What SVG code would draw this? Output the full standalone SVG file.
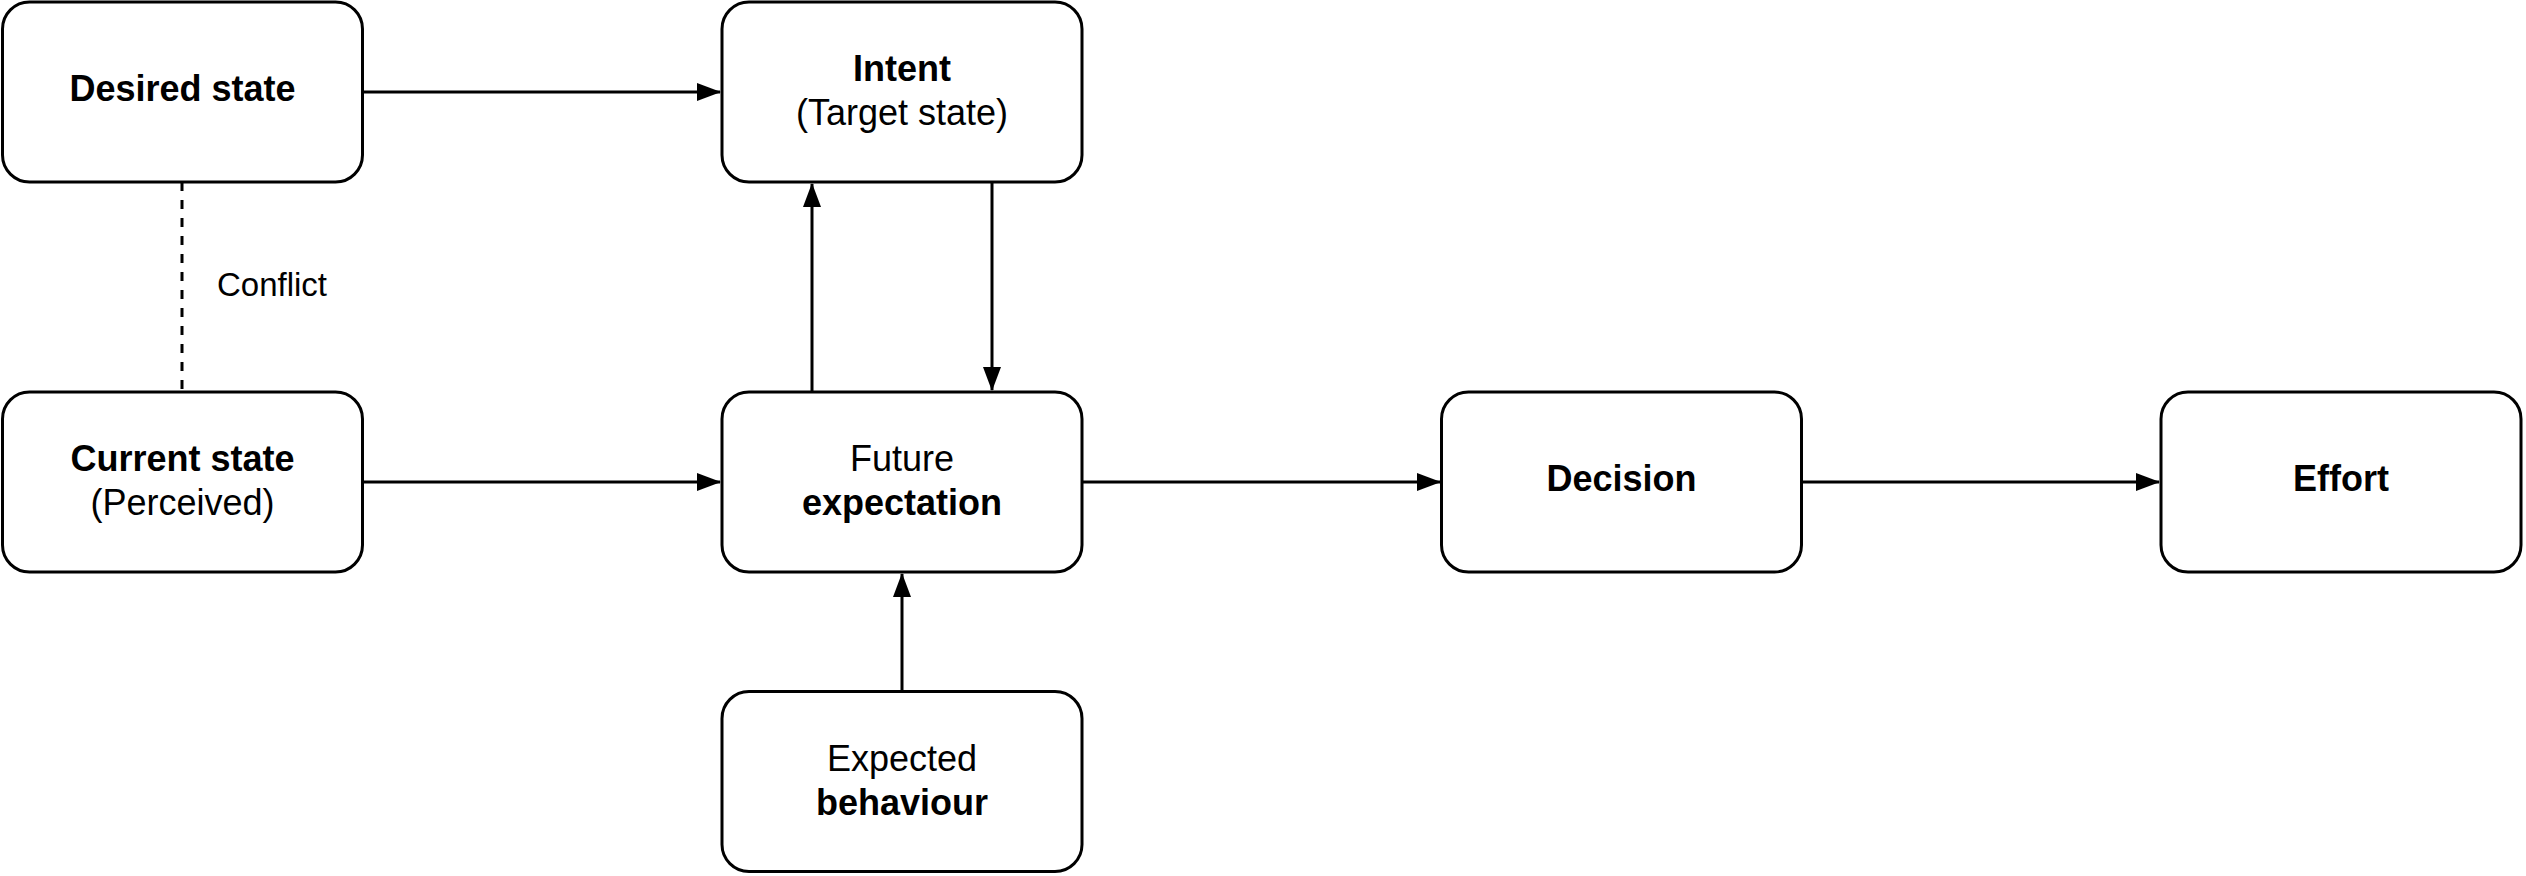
<svg xmlns="http://www.w3.org/2000/svg" width="2526" height="876" viewBox="0 0 2526 876">
<style>
.box{fill:#fff;stroke:#000;stroke-width:3}
.t{font-family:"Liberation Sans",Arial,Helvetica,sans-serif;font-size:36px;fill:#000;text-anchor:middle}
.b{font-weight:bold}
.lbl{font-family:"Liberation Sans",Arial,Helvetica,sans-serif;font-size:33px;fill:#000;text-anchor:middle}
.e{fill:none;stroke:#000;stroke-width:3}
</style>
<defs>
<marker id="ah" viewBox="0 0 24 18" refX="23" refY="9" markerWidth="24" markerHeight="18" markerUnits="userSpaceOnUse" orient="auto">
<path d="M0,0 L24,9 L0,18 Z" fill="#000"/>
</marker>
</defs>
<rect width="2526" height="876" fill="#fff"/>
<g id="edges">
<line class="e" x1="362" y1="92" x2="720" y2="92" marker-end="url(#ah)"/>
<line class="e" x1="812" y1="392" x2="812" y2="184" marker-end="url(#ah)"/>
<line class="e" x1="992" y1="182" x2="992" y2="390" marker-end="url(#ah)"/>
<line class="e" x1="362" y1="482" x2="720" y2="482" marker-end="url(#ah)"/>
<line class="e" x1="1082" y1="482" x2="1440" y2="482" marker-end="url(#ah)"/>
<line class="e" x1="1801" y1="482" x2="2159" y2="482" marker-end="url(#ah)"/>
<line class="e" x1="902" y1="691" x2="902" y2="574" marker-end="url(#ah)"/>
<line class="e" x1="182" y1="182" x2="182" y2="392" stroke-dasharray="9 9"/>
<text class="lbl" x="272" y="296">Conflict</text>
</g>
<g id="desired">
<rect class="box" x="2.5" y="2" width="360" height="180" rx="27" ry="27"/>
<text class="t b" x="182.5" y="101">Desired state</text>
</g>
<g id="intent">
<rect class="box" x="722" y="2" width="360" height="180" rx="27" ry="27"/>
<text class="t" x="902" y="81"><tspan class="b">Intent</tspan><tspan x="902" dy="44">(Target state)</tspan></text>
</g>
<g id="current">
<rect class="box" x="2.5" y="392" width="360" height="180" rx="27" ry="27"/>
<text class="t" x="182.5" y="471"><tspan class="b">Current state</tspan><tspan x="182.5" dy="44">(Perceived)</tspan></text>
</g>
<g id="future">
<rect class="box" x="722" y="392" width="360" height="180" rx="27" ry="27"/>
<text class="t" x="902" y="471"><tspan>Future</tspan><tspan class="b" x="902" dy="44">expectation</tspan></text>
</g>
<g id="decision">
<rect class="box" x="1441.5" y="392" width="360" height="180" rx="27" ry="27"/>
<text class="t b" x="1621.5" y="491">Decision</text>
</g>
<g id="effort">
<rect class="box" x="2161" y="392" width="360" height="180" rx="27" ry="27"/>
<text class="t b" x="2341" y="491">Effort</text>
</g>
<g id="behaviour">
<rect class="box" x="722" y="691.5" width="360" height="180" rx="27" ry="27"/>
<text class="t" x="902" y="771"><tspan>Expected</tspan><tspan class="b" x="902" dy="44">behaviour</tspan></text>
</g>
</svg>
